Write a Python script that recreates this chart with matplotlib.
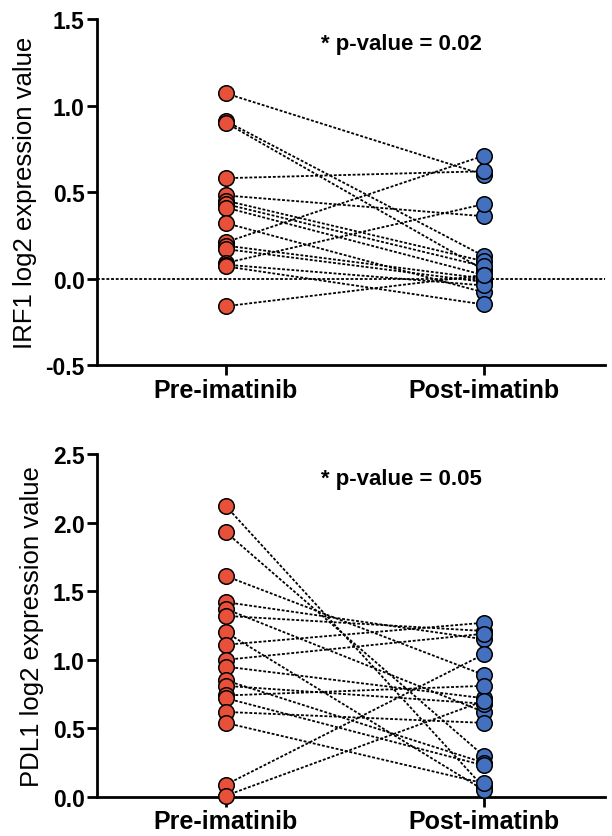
import numpy as np
from matplotlib import pyplot as plt

plt.rcParams['font.family'] = ['Liberation Sans', 'DejaVu Sans']

# --- data ---
groups = ['Pre-imatinib', 'Post-imatinb']

irf1_pre = [1.07, 0.91, 0.90, 0.58, 0.48, 0.45, 0.43, 0.41, 0.32,
            0.21, 0.19, 0.17, 0.09, 0.08, 0.07, -0.16]
irf1_post = [0.60, 0.13, 0.05, 0.62, 0.36, 0.10, 0.07, 0.02, -0.08,
             0.71, 0.00, -0.02, 0.43, -0.04, -0.15, 0.02]

pdl1_pre = [2.12, 1.93, 1.61, 1.42, 1.37, 1.32, 1.20, 1.11, 1.00,
            0.95, 0.85, 0.81, 0.74, 0.72, 0.62, 0.54, 0.09, 0.01]
pdl1_post = [0.07, 0.30, 0.89, 1.15, 0.62, 1.21, 0.05, 1.27, 1.19,
             0.72, 0.25, 0.68, 0.81, 0.23, 0.54, 0.10, 1.04, 0.70]

irf1_ticks = [-0.5, 0.0, 0.5, 1.0, 1.5]
pdl1_ticks = [0.0, 0.5, 1.0, 1.5, 2.0, 2.5]

red = '#E8503A'
blue = '#4470C0'

fig = plt.figure(figsize=(6.12, 8.37), dpi=100)
ax1 = fig.add_axes([0.1585, 0.5627, 0.83, 0.4134])
ax2 = fig.add_axes([0.1585, 0.0466, 0.83, 0.4098])


def paired_plot(ax, pre, post, ticks, ylabel, ptext, zero_line):
    # one dotted line per patient, then the two groups of dots on top
    for a, b in zip(pre, post):
        ax.plot([0, 1], [a, b], color='black', lw=1.3,
                linestyle=(0, (1.6, 1.0)), zorder=2)
    ax.scatter(np.zeros(len(pre)), pre, s=125, color=red,
               edgecolor='black', linewidth=1.1, zorder=3, clip_on=False)
    ax.scatter(np.ones(len(post)), post, s=125, color=blue,
               edgecolor='black', linewidth=1.1, zorder=3, clip_on=False)
    if zero_line:
        ax.axhline(0, color='black', lw=1.3, linestyle=(0, (1.6, 1.0)), zorder=1)
    ax.set_xlim(-0.5, 1.47)
    ax.set_ylim(ticks[0], ticks[-1])
    ax.set_yticks(ticks)
    ax.set_yticklabels([f'{t:.1f}' for t in ticks], fontweight='bold', fontsize=16.5)
    ax.set_xticks([0, 1])
    ax.set_xticklabels(groups, fontweight='bold', fontsize=18)
    ax.set_ylabel(ylabel, fontsize=18.5, labelpad=6)
    for s in ['top', 'right']:
        ax.spines[s].set_visible(False)
    for s in ['left', 'bottom']:
        ax.spines[s].set_linewidth(2)
    ax.tick_params(width=2, length=7, direction='out', pad=2)
    ax.text(0.6, 0.93, ptext, transform=ax.transAxes, ha='center', va='center',
            fontweight='bold', fontsize=16)


paired_plot(ax1, irf1_pre, irf1_post, irf1_ticks,
            'IRF1 log2 expression value', '* p-value = 0.02', True)
paired_plot(ax2, pdl1_pre, pdl1_post, pdl1_ticks,
            'PDL1 log2 expression value', '* p-value = 0.05', False)

fig.savefig('out.png', dpi=100)
